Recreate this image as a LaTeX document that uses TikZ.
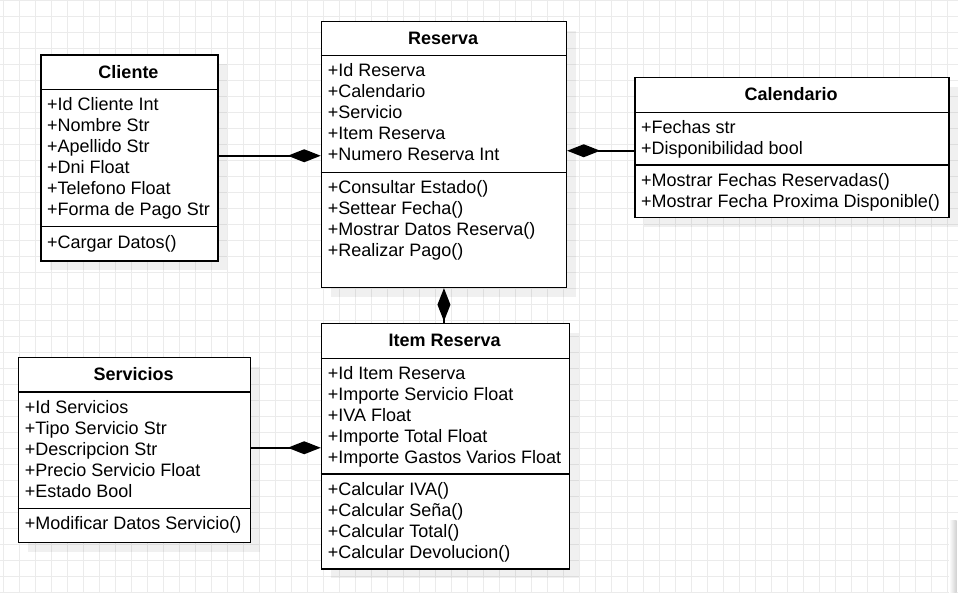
\documentclass[tikz,border=0pt]{standalone}
\usepackage{fontspec}
\setmainfont{Liberation Sans}
\usetikzlibrary{arrows.meta}
\definecolor{gridc}{RGB}{235,235,235}
\tikzset{dia/.tip={Diamond[length=33pt,width=13pt]}}
\begin{document}
\begin{tikzpicture}[x=1pt,y=-1pt,
  classbox/.style={draw=black, line width=1.5pt, fill=white, inner sep=0pt, anchor=north west},
  shadowbox/.style={fill=black, opacity=0.06},
  sepline/.style={draw=black, line width=1.5pt},
  gridline/.style={draw=gridc, line width=1pt},
  ttl/.style={font=\fontsize{18}{21}\selectfont\bfseries, anchor=base, inner sep=0pt},
  txt/.style={font=\fontsize{18}{21}\selectfont, anchor=base west, inner sep=0pt},
  comp/.style={draw=black, line width=1.5pt}
]
\useasboundingbox (0,0) rectangle (958,592);
\fill[white] (0,0) rectangle (958,592);
% grid
\foreach \i in {0,...,59} \draw[gridline] ({3.3+16*\i},0) -- ++(0,592);
\foreach \j in {0,...,37} \draw[gridline] (0,{0.3+16*\j}) -- ++(958,0);
% partial box at bottom right
\shade[left color=white, right color=black!18] (949,520) rectangle (956.5,592);
\fill[white] (956.5,518) rectangle (958,592);

% shadows
\fill[shadowbox] (50,64) rectangle (227,270);
\fill[shadowbox] (330.7,30.7) rectangle (575.7,296.7);
\fill[shadowbox] (644,86.7) rectangle (958.3,226.7);
\fill[shadowbox] (27.7,366.7) rectangle (259.7,551.7);
\fill[shadowbox] (330.7,332.7) rectangle (578.7,578);

% Cliente
\node[classbox, minimum width=177pt, minimum height=206pt] (cliente) at (40,54) {};
\draw[sepline] (cliente.west |- 0,89.3) -- (cliente.east |- 0,89.3);
\draw[sepline] (cliente.west |- 0,226.7) -- (cliente.east |- 0,226.7);
\node[ttl] (cliente-t) at (128.5,78.1) {Cliente};
\foreach \t [count=\i] in {{+Id Cliente Int},{+Nombre Str},{+Apellido Str},{+Dni Float},{+Telefono Float},{+Forma de Pago Str}}
  \node[txt] (cliente-a\i) at (47,{110.3+21*(\i-1)}) {\t};
\node[txt] (cliente-m1) at (47,248.2) {+Cargar Datos()};

% Reserva
\node[classbox, minimum width=245pt, minimum height=266pt] (reserva) at (320.7,20.7) {};
\draw[sepline] (reserva.west |- 0,55.7) -- (reserva.east |- 0,55.7);
\draw[sepline] (reserva.west |- 0,172.3) -- (reserva.east |- 0,172.3);
\node[ttl] (reserva-t) at (443.2,44.6) {Reserva};
\foreach \t [count=\i] in {{+Id Reserva},{+Calendario},{+Servicio},{+Item Reserva},{+Numero Reserva Int}}
  \node[txt] (reserva-a\i) at (327.7,{76.7+21*(\i-1)}) {\t};
\foreach \t [count=\i] in {{+Consultar Estado()},{+Settear Fecha()},{+Mostrar Datos Reserva()},{+Realizar Pago()}}
  \node[txt] (reserva-m\i) at (327.7,{193.5+21*(\i-1)}) {\t};

% Calendario
\node[classbox, minimum width=314.3pt, minimum height=140pt] (calendario) at (634,76.7) {};
\draw[sepline] (calendario.west |- 0,112.3) -- (calendario.east |- 0,112.3);
\draw[sepline] (calendario.west |- 0,165) -- (calendario.east |- 0,165);
\node[ttl] (calendario-t) at (791.2,100.9) {Calendario};
\foreach \t [count=\i] in {{+Fechas str},{+Disponibilidad bool}}
  \node[txt] (calendario-a\i) at (641,{133.3+21*(\i-1)}) {\t};
\foreach \t [count=\i] in {{+Mostrar Fechas Reservadas()},{+Mostrar Fecha Proxima Disponible()}}
  \node[txt] (calendario-m\i) at (641,{186.3+21*(\i-1)}) {\t};

% Servicios
\node[classbox, minimum width=232pt, minimum height=185pt] (servicios) at (17.7,356.7) {};
\draw[sepline] (servicios.west |- 0,392) -- (servicios.east |- 0,392);
\draw[sepline] (servicios.west |- 0,508.3) -- (servicios.east |- 0,508.3);
\node[ttl] (servicios-t) at (133.7,380.8) {Servicios};
\foreach \t [count=\i] in {{+Id Servicios},{+Tipo Servicio Str},{+Descripcion Str},{+Precio Servicio Float},{+Estado Bool}}
  \node[txt] (servicios-a\i) at (24.7,{413+21*(\i-1)}) {\t};
\node[txt] (servicios-m1) at (24.7,529.8) {+Modificar Datos Servicio()};

% Item Reserva
\node[classbox, minimum width=248pt, minimum height=245.3pt] (item) at (320.7,322.7) {};
\draw[sepline] (item.west |- 0,358.3) -- (item.east |- 0,358.3);
\draw[sepline] (item.west |- 0,474) -- (item.east |- 0,474);
\node[ttl] (item-t) at (444.7,346.9) {Item Reserva};
\foreach \t [count=\i] in {{+Id Item Reserva},{+Importe Servicio Float},{+IVA Float},{+Importe Total Float},{+Importe Gastos Varios Float}}
  \node[txt] (item-a\i) at (327.7,{379.3+21*(\i-1)}) {\t};
\foreach \t [count=\i] in {{+Calcular IVA()},{+Calcular Seña()},{+Calcular Total()},{+Calcular Devolucion()}}
  \node[txt] (item-m\i) at (327.7,{495.5+21*(\i-1)}) {\t};

% connectors (composition)
\coordinate (cl) at ([yshift=2pt]cliente.east);
\coordinate (ca) at ([yshift=-3.3pt]calendario.west);
\coordinate (se) at ([yshift=2.2pt]servicios.east);
\draw[comp, dia-] (reserva.west |- cl) -- (cl);
\draw[comp, dia-] (reserva.east |- ca) -- (ca);
\draw[comp, dia-] (reserva.south) -- (reserva.south |- item.north);
\draw[comp, dia-] (item.west |- se) -- (se);
\end{tikzpicture}
\end{document}
